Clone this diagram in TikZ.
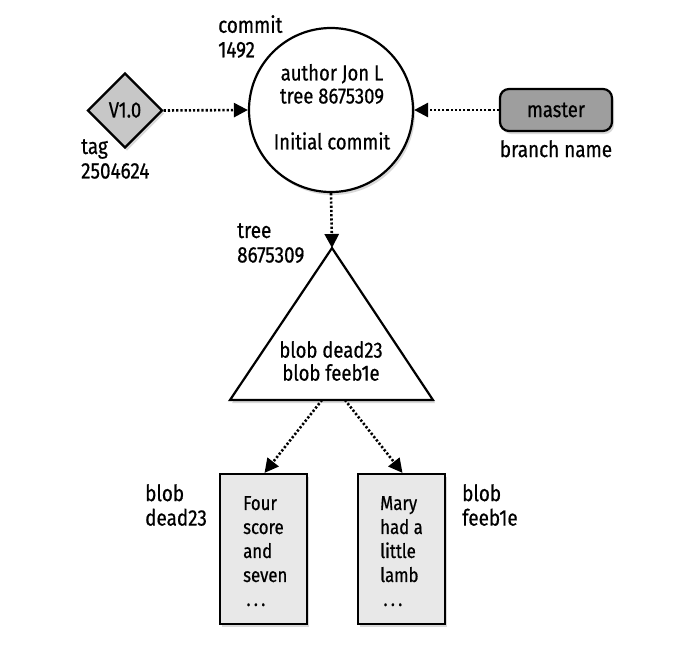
\documentclass[tikz,border=0pt]{standalone}
\usepackage{fontspec}
\setmainfont{Fira Sans}[FakeStretch=0.84,FakeBold=0.6]
\usetikzlibrary{arrows.meta,shadows,shapes.geometric}
\begin{document}
\begin{tikzpicture}[x=1pt,y=-1pt,
  lbl/.style={font=\fontsize{22.5}{24.5}\selectfont,align=left,inner sep=0pt},
  inner/.style={font=\fontsize{22}{23}\selectfont,align=center,inner sep=0pt},
  blobtext/.style={font=\fontsize{20}{24}\selectfont,align=left,inner sep=0pt,anchor=north west},
  shape line/.style={draw=black,line width=2.2pt},
  shad/.style={drop shadow={opacity=0.3,shadow xshift=2pt,shadow yshift=-3pt}},
  ptr/.style={line width=2.6pt,dash pattern=on 2.2pt off 2pt,-{Triangle[length=14pt,width=14pt]}},
]
\useasboundingbox (0,0) rectangle (678,654);
% commit circle
\node[circle,shape line,fill=white,shad,minimum size=164pt,inner sep=0pt] (commit) at (331,110) {};
\node[inner] (ctext) at (332,84) {author Jon L\\tree 8675309};
\node[inner] (cmsg) at (332,141) {Initial commit};
\node[lbl,anchor=north west] (clbl) at (218,15) {commit\\1492};
% tag diamond
\node[diamond,shape line,fill=black!22,shad,minimum size=75pt,inner sep=0pt] (tag) at (125,110.5) {};
\node[inner] (tagt) at (125,110) {V1.0};
\node[lbl,anchor=north west] (taglbl) at (81,139) {tag\\2504624};
% branch
\node[rectangle,rounded corners=9pt,shape line,fill=black!38,shad,minimum width=112pt,minimum height=42pt,inner sep=0pt] (master) at (556,110) {};
\node[inner] (mastert) at (556,110) {master};
\node[lbl,anchor=north] (brlbl) at (556,140) {branch name};
% tree triangle
\coordinate (tA) at (332,248);
\coordinate (tL) at (230,400);
\coordinate (tR) at (433,400);
\coordinate (tBL) at (322,400);
\coordinate (tBR) at (345,400);
\path[shape line,fill=white,shad,line join=miter] (tA) -- (tR) -- (tL) -- cycle;
\node[inner] (ttext) at (331,361) {blob dead23\\blob feeb1e};
\node[lbl,anchor=north west] (treelbl) at (237,223) {tree\\8675309};
% blobs
\node[rectangle,shape line,fill=black!9,shad,minimum width=87pt,minimum height=150pt,inner sep=0pt] (b1) at (263.5,549) {};
\node[blobtext] (b1t) at (243,496) {Four\\score\\and\\seven\\\,.\,.\,.};
\node[rectangle,shape line,fill=black!9,shad,minimum width=87pt,minimum height=150pt,inner sep=0pt] (b2) at (401.5,549) {};
\node[blobtext] (b2t) at (380,496) {Mary\\had a\\little\\lamb\\\,.\,.\,.};
\node[lbl,anchor=north west] (b1lbl) at (145,484) {blob\\dead23};
\node[lbl,anchor=north west] (b2lbl) at (462,484) {blob\\feeb1e};
% arrows
\draw[ptr] (tag.east) -- (commit.west);
\draw[ptr] (master.west) -- (commit.east);
\draw[ptr] (commit.south) -- (tA);
\draw[ptr] (tBL) -- ([xshift=1pt]b1.north);
\draw[ptr] (tBR) -- ([xshift=1pt]b2.north);
\end{tikzpicture}
\end{document}
